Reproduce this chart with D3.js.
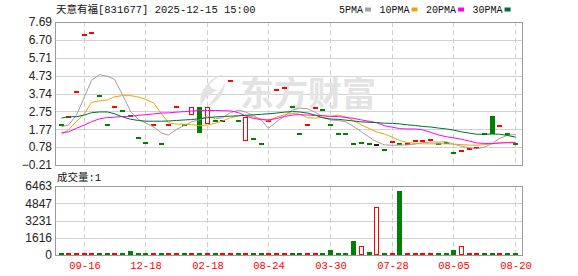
<!DOCTYPE html>
<html>
<head>
<meta charset="utf-8">
<script src="https://cdn.jsdelivr.net/npm/d3@7"></script>
<style>
  body { margin: 0; background: #fff; }
  svg { display: block; }
</style>
</head>
<body>
<svg id="chart" width="578" height="276"></svg>
<script>
const stockTitle = "天意有福[831677] 2025-12-15 15:00";
const volumeTitle = "成交量";

// x-axis ticks: candle index -> date label
const tickIdx = [3, 11, 19, 27, 35, 43, 51, 59];
const tickLabels = ["09-16", "12-18", "02-18", "08-24", "03-30", "07-28", "08-05", "08-20"];

const priceTicks = [7.69, 6.70, 5.71, 4.73, 3.74, 2.75, 1.77, 0.78, -0.21];
const volTicks = [0, 1616, 3231, 4847, 6463];

// candles (most are flat, open == close)
const opens = [2.00, 2.46, 3.84, 6.97, 7.06, 3.59, 1.98, 2.98, 2.76, 2.48,
  1.28, 1.00, 1.98, 0.95, 1.98, 2.98, 1.98, 2.54, 2.98, 2.03,
  2.24, 2.22, 4.43, 2.22, 1.13, 1.23, 0.93, 2.22, 3.92, 4.04,
  2.98, 1.50, 2.00, 2.92, 2.83, 2.00, 1.50, 1.50, 0.93, 1.02,
  0.93, 0.88, 0.62, 1.08, 0.93, 0.93, 1.12, 1.12, 1.17, 0.95,
  1.03, 0.44, 0.56, 0.67, 0.71, 1.50, 2.50, 1.94, 1.49, 0.95];
const closes = [2.00, 2.46, 3.84, 6.97, 7.06, 3.59, 1.98, 2.98, 2.76, 2.48,
  1.28, 1.00, 1.98, 0.95, 1.98, 2.98, 1.98, 2.98, 1.54, 2.98,
  2.24, 2.22, 4.43, 2.22, 2.46, 1.23, 0.93, 2.22, 3.92, 4.04,
  2.98, 1.50, 2.00, 2.92, 2.83, 2.00, 1.50, 1.50, 0.93, 1.02,
  0.93, 0.88, 0.62, 1.08, 0.93, 0.93, 1.12, 1.12, 1.17, 0.95,
  1.03, 0.44, 0.56, 0.67, 0.71, 1.50, 1.50, 1.94, 1.49, 0.95];
// r = up, g = down, k = flat
const candleDir = ("grrrrggrgg" + "ggrgrrgrgr" + "gkrgrggrrr" +
  "ggrrgggggg" + "gkgrgrrrrg" + "ggrrrggrgg").split("");
const volumeDir = ("grrrrggrgg" + "ggrgrrgrgr" + "grrgrggrrr" +
  "ggrrgggggr" + "grgrgrrrrg" + "ggrrrggrgg").split("");

const volumes = [3, 200, 2, 4, 3, 2, 5, 3, 2, 420,
  3, 2, 4, 2, 3, 2, 5, 220, 4, 3,
  2, 3, 5, 2, 4, 3, 2, 3, 4, 2,
  3, 2, 4, 3, 2, 480, 3, 2, 1330, 880,
  300, 4470, 3, 2, 6000, 3, 2, 4, 3, 2,
  3, 480, 820, 2, 3, 2, 4, 3, 2, 1];

const ma5 = [1.91, 2.00, 2.55, 3.56, 4.47, 4.78, 4.69, 4.52, 3.67, 2.76,
  2.30, 2.12, 1.90, 1.56, 1.44, 1.76, 1.98, 2.18, 2.29, 2.49,
  2.34, 2.40, 2.68, 2.82, 2.72, 2.52, 2.25, 1.82, 2.18, 2.50,
  2.82, 2.93, 2.90, 2.70, 2.45, 2.27, 2.25, 2.18, 1.92, 1.62,
  1.32, 1.08, 0.90, 0.88, 0.89, 0.90, 0.95, 1.03, 1.05, 1.06,
  1.07, 0.94, 0.83, 0.74, 0.68, 0.78, 0.99, 1.26, 1.43, 1.48];
const ma10 = [1.47, 1.74, 2.20, 2.62, 3.25, 3.33, 3.38, 3.56, 3.62, 3.62,
  3.55, 3.41, 3.22, 2.62, 2.12, 2.05, 2.04, 2.03, 1.96, 2.00,
  2.10, 2.22, 2.40, 2.50, 2.55, 2.44, 2.33, 2.23, 2.43, 2.58,
  2.64, 2.60, 2.40, 2.38, 2.42, 2.48, 2.54, 2.45, 2.25, 2.00,
  1.80, 1.62, 1.50, 1.32, 1.14, 1.03, 0.98, 0.96, 0.96, 0.96,
  0.96, 0.94, 0.92, 0.89, 0.88, 0.92, 0.96, 1.02, 1.05, 1.05];
const ma20 = [1.58, 1.62, 1.82, 2.00, 2.18, 2.34, 2.41, 2.43, 2.47, 2.48,
  2.53, 2.57, 2.61, 2.66, 2.67, 2.71, 2.74, 2.77, 2.80, 2.80,
  2.80, 2.79, 2.78, 2.68, 2.50, 2.36, 2.30, 2.28, 2.36, 2.47,
  2.55, 2.57, 2.55, 2.53, 2.52, 2.48, 2.46, 2.42, 2.37, 2.28,
  2.20, 2.13, 1.96, 1.88, 1.80, 1.78, 1.78, 1.73, 1.60, 1.45,
  1.35, 1.29, 1.21, 1.11, 1.01, 0.98, 0.98, 1.00, 1.02, 1.02];
const ma30 = [2.38, 2.46, 2.46, 2.55, 2.68, 2.72, 2.72, 2.62, 2.45, 2.32,
  2.25, 2.21, 2.21, 2.21, 2.22, 2.25, 2.28, 2.30, 2.35, 2.40,
  2.45, 2.47, 2.49, 2.51, 2.53, 2.56, 2.59, 2.62, 2.66, 2.71,
  2.74, 2.72, 2.66, 2.54, 2.40, 2.33, 2.31, 2.27, 2.22, 2.17,
  2.15, 2.13, 2.10, 2.09, 2.06, 2.01, 1.97, 1.92, 1.89, 1.83,
  1.78, 1.72, 1.62, 1.55, 1.49, 1.49, 1.50, 1.49, 1.42, 1.33];

const maNames = ["5PMA", "10PMA", "20PMA", "30PMA"];
const maSeries = [ma5, ma10, ma20, ma30];
const maColors = ["#a0a0a0", "#f5a300", "#ff00ff", "#006e32"];

const RED = "#ff0000", GREEN = "#008000", FLAT = "#222";
const dirColor = d => d === "r" ? RED : d === "g" ? GREEN : FLAT;

const svg = d3.select("#chart");
const left = 55, right = 522;
const kTop = 22, kBottom = 165, vTop = 186, vBottom = 255;
const monoFont = "'Liberation Mono', 'Noto Sans CJK SC', monospace";
const sansFont = "'Liberation Sans', Arial, sans-serif";

const x = d3.scaleBand().domain(d3.range(closes.length)).range([56.65, 518.65]);
const cx = i => Math.round(x(i) + x.bandwidth() / 2);
const y = d3.scaleLinear().domain([d3.min(priceTicks), d3.max(priceTicks)]).range([kBottom, kTop]);
const yv = d3.scaleLinear().domain([0, d3.max(volTicks)]).range([vBottom, vTop]);

// hollow box = red rect with a white inner rect
function hollowBox(g, xc, top, h, col) {
  g.append("rect").attr("x", xc - 2).attr("y", top)
    .attr("width", 5).attr("height", h).attr("fill", col);
  if (h > 2) {
    g.append("rect").attr("x", xc - 1).attr("y", top + 1)
      .attr("width", 3).attr("height", h - 2).attr("fill", "#fff");
  }
}

// grids
const grid = svg.append("g").attr("shape-rendering", "crispEdges");
grid.selectAll(".hk").data(priceTicks).join("line")
  .attr("x1", left).attr("x2", right)
  .attr("y1", d => Math.round(y(d)) + 0.5).attr("y2", d => Math.round(y(d)) + 0.5)
  .attr("stroke", "#d2d2d2");
grid.selectAll(".hv").data(volTicks).join("line")
  .attr("x1", left).attr("x2", right)
  .attr("y1", d => Math.round(yv(d)) + 0.5).attr("y2", d => Math.round(yv(d)) + 0.5)
  .attr("stroke", "#d2d2d2");
[[kTop, kBottom], [vTop, vBottom]].forEach(([t, b]) => {
  grid.append("g").selectAll("line").data(tickIdx).join("line")
    .attr("x1", d => cx(d) + 0.5).attr("x2", d => cx(d) + 0.5)
    .attr("y1", t).attr("y2", b)
    .attr("stroke", "#cfcfcf")
    .attr("stroke-dasharray", "5,3");
});

// watermark
const wm = svg.append("g").attr("fill", "#e3e3e3");
wm.append("path")
  .attr("d", "M224,74 C208,78 198,92 201,106 C204,99 210,93 218,90 C212,89 209,87 210,84 C213,80 218,77 224,74 Z M226,80 C222,90 214,98 208,106 C216,103 224,96 226,80 Z");
wm.append("text")
  .attr("x", 240).attr("y", 91)
  .attr("dominant-baseline", "central")
  .attr("font-family", "'Noto Sans CJK SC', sans-serif")
  .attr("font-weight", "bold")
  .attr("font-size", 34)
  .text("东方财富");

// frames
[[kTop, kBottom], [vTop, vBottom]].forEach(([t, b]) => {
  svg.append("rect")
    .attr("x", left + 0.5).attr("y", t + 0.5)
    .attr("width", right - left).attr("height", b - t)
    .attr("fill", "none").attr("stroke", "#9a9a9a")
    .attr("shape-rendering", "crispEdges");
});

// candles
const candles = svg.append("g").attr("shape-rendering", "crispEdges");
closes.forEach((c, i) => {
  const o = opens[i];
  const col = dirColor(candleDir[i]);
  const yo = y(o), yc = y(c);
  const top = Math.round(Math.min(yo, yc));
  const h = Math.round(Math.abs(yo - yc));
  if (h < 2) {
    candles.append("rect")
      .attr("x", cx(i) - 2).attr("y", Math.round(yc) - 1)
      .attr("width", 5).attr("height", 2)
      .attr("fill", col);
  } else if (candleDir[i] === "r") {
    hollowBox(candles, cx(i), top, h, col);
  } else {
    candles.append("rect")
      .attr("x", cx(i) - 2).attr("y", top)
      .attr("width", 5).attr("height", h)
      .attr("fill", col);
  }
});

// moving averages
const maLine = data => d3.line()
  .x((d, i) => cx(i) + 0.5)
  .y(d => y(d))(data);
maSeries.forEach((s, k) => {
  svg.append("path")
    .attr("d", maLine(s))
    .attr("fill", "none")
    .attr("stroke", maColors[k])
    .attr("stroke-width", 1);
});

// volume bars
const vols = svg.append("g").attr("shape-rendering", "crispEdges");
volumes.forEach((v, i) => {
  const h = Math.max(2, Math.round(vBottom - yv(v)));
  const col = dirColor(volumeDir[i]);
  if (volumeDir[i] === "r") {
    hollowBox(vols, cx(i), vBottom - h, h, col);
  } else {
    vols.append("rect")
      .attr("x", cx(i) - 2).attr("y", vBottom - h)
      .attr("width", 5).attr("height", h)
      .attr("fill", col);
  }
});

// axes
const styleAxis = (g, font, size, color) => {
  g.select(".domain").remove();
  g.attr("font-family", font).attr("font-size", size);
  g.selectAll("text").attr("fill", color);
};
svg.append("g").attr("transform", `translate(${left},0)`)
  .call(d3.axisLeft(y).tickValues(priceTicks).tickSize(0).tickPadding(3).tickFormat(d3.format(".2f")))
  .call(g => styleAxis(g, sansFont, 12, "#222"));
svg.append("g").attr("transform", `translate(${left},0)`)
  .call(d3.axisLeft(yv).tickValues(volTicks).tickSize(0).tickPadding(3).tickFormat(d3.format("d")))
  .call(g => styleAxis(g, sansFont, 12, "#222"));
const xAxis = d3.axisBottom(d3.scaleLinear().domain([0, 1]).range([0, 1]))
  .tickValues(tickIdx.map(cx))
  .tickSize(0).tickPadding(7)
  .tickFormat((d, i) => tickLabels[i]);
svg.append("g").attr("transform", `translate(0.5,${vBottom})`)
  .call(xAxis)
  .call(g => styleAxis(g, monoFont, 10.5, RED));

// titles
svg.append("text")
  .attr("x", 56).attr("y", 10)
  .attr("dominant-baseline", "central")
  .attr("font-family", monoFont)
  .attr("font-size", 10.5)
  .attr("fill", "#111")
  .text(stockTitle);

svg.append("text")
  .attr("x", 57).attr("y", 178)
  .attr("dominant-baseline", "central")
  .attr("font-family", monoFont)
  .attr("font-size", 10.5)
  .attr("fill", "#111")
  .text(`${volumeTitle}:${volumes[volumes.length - 1]}`);

// legend
let lx = 339;
maNames.forEach((name, k) => {
  const t = svg.append("text")
    .attr("x", lx).attr("y", 10)
    .attr("dominant-baseline", "central")
    .attr("font-family", monoFont)
    .attr("font-size", 10)
    .attr("fill", "#111")
    .text(name);
  lx += t.node().getComputedTextLength() + 2;
  svg.append("rect")
    .attr("x", lx).attr("y", 7.5)
    .attr("width", 6).attr("height", 4)
    .attr("fill", maColors[k]);
  lx += 6 + 8.5;
});
</script>
</body>
</html>
